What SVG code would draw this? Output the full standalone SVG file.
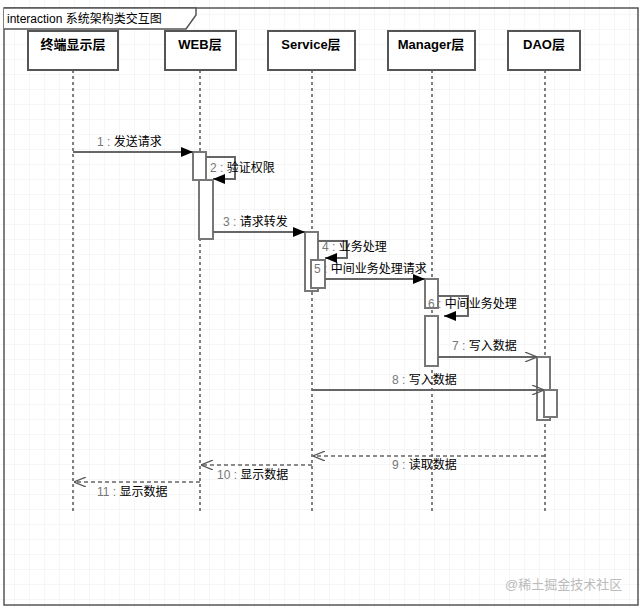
<svg xmlns="http://www.w3.org/2000/svg" width="640" height="609" viewBox="0 0 640 609">
<defs>
<pattern id="grid" width="15" height="15" patternUnits="userSpaceOnUse"><path d="M15 0V15H0" fill="none" stroke="#ececec" stroke-width="1"/></pattern>
<marker id="fa" markerWidth="12" markerHeight="10" refX="12" refY="5" orient="auto" markerUnits="userSpaceOnUse"><path d="M0 0L12 5L0 10Z" fill="#000"/></marker>
<marker id="oa" markerWidth="12" markerHeight="10" refX="12" refY="5" orient="auto" markerUnits="userSpaceOnUse"><path d="M0 0L12 5L0 10" fill="none" stroke="#555" stroke-width="1.2"/></marker>
<style>
text{font-family:"Liberation Sans","Noto Sans CJK SC",sans-serif;font-size:12px;fill:#000}
.h{font-weight:bold;font-size:13px;text-anchor:middle}
.box{fill:#fff;stroke:#555;stroke-width:2}
.life{stroke:#000;stroke-dasharray:3,3;fill:none}
.act{fill:#fff;stroke:#777;stroke-width:2}
.m{stroke:#666;stroke-width:2;fill:none}
.r{stroke:#666;stroke-width:1.5;stroke-dasharray:4,3;fill:none}
.n{fill:#777}
</style>
</defs>
<rect width="640" height="609" fill="#fff"/>
<rect width="640" height="609" fill="url(#grid)"/>
<rect x="4" y="8" width="634" height="597" fill="none" stroke="#555" stroke-width="1.5"/>
<path d="M4 8H196V15L186 29H4" fill="#fff" stroke="#555" stroke-width="1.5"/>
<text x="7" y="23" font-size="12">interaction 系统架构类交互图</text>
<g id="lifelines">
<path class="life" d="M73 70V512M200 70V512M312 70V512M432 70V512M545 70V512"/>
</g>
<g id="n1"><rect class="box" x="28" y="31" width="90" height="39"/><text class="h" x="73" y="49">终端显示层</text></g>
<g id="n2"><rect class="box" x="165" y="31" width="71" height="39"/><text class="h" x="200" y="49">WEB层</text></g>
<g id="n3"><rect class="box" x="268" y="31" width="87" height="39"/><text class="h" x="311" y="49">Service层</text></g>
<g id="n4"><rect class="box" x="388" y="31" width="87" height="39"/><text class="h" x="431" y="49">Manager层</text></g>
<g id="n5"><rect class="box" x="508" y="31" width="72" height="39"/><text class="h" x="544" y="49">DAO层</text></g>
<g id="activations">
<rect class="act" x="193" y="152" width="13" height="28"/>
<rect class="act" x="199" y="180" width="14" height="59"/>
<rect class="act" x="305" y="232" width="13" height="59"/>
<rect class="act" x="311" y="260" width="14" height="28"/>
<rect class="act" x="425" y="279" width="13" height="29"/>
<rect class="act" x="425" y="316" width="13" height="50"/>
<rect class="act" x="537" y="357" width="13" height="63"/>
<rect class="act" x="544" y="390" width="13" height="27"/>
</g>
<g id="connectors">
<path class="m" d="M73 152H193" marker-end="url(#fa)"/>
<path class="m" d="M206 157H235V179H213" marker-end="url(#fa)"/>
<path class="m" d="M213 232H305" marker-end="url(#fa)"/>
<path class="m" d="M318 241H347V258H325" marker-end="url(#fa)"/>
<path class="m" d="M325 279H425" marker-end="url(#fa)"/>
<path class="m" d="M438 296H468V316H444" marker-end="url(#fa)"/>
<path class="m" d="M438 357H537" marker-end="url(#oa)"/>
<path class="m" d="M312 390H544" marker-end="url(#oa)"/>
<path class="r" d="M545 456H313" marker-end="url(#oa)"/>
<path class="r" d="M312 465H201" marker-end="url(#oa)"/>
<path class="r" d="M200 482H74" marker-end="url(#oa)"/>
</g>
<g id="labels">
<text x="97" y="146"><tspan class="n">1 : </tspan>发送请求</text>
<text x="210" y="172"><tspan class="n">2 : </tspan>验证权限</text>
<text x="223" y="226"><tspan class="n">3 : </tspan>请求转发</text>
<text x="322" y="251"><tspan class="n">4 : </tspan>业务处理</text>
<text x="314" y="273"><tspan class="n">5 : </tspan>中间业务处理请求</text>
<text x="428" y="308"><tspan class="n">6 : </tspan>中间业务处理</text>
<text x="452" y="350"><tspan class="n">7 : </tspan>写入数据</text>
<text x="392" y="384"><tspan class="n">8 : </tspan>写入数据</text>
<text x="392" y="469"><tspan class="n">9 : </tspan>读取数据</text>
<text x="217" y="479"><tspan class="n">10 : </tspan>显示数据</text>
<text x="97" y="496"><tspan class="n">11 : </tspan>显示数据</text>
</g>
<text x="505" y="589" style="fill:#bbb;font-size:13px">@稀土掘金技术社区</text>
</svg>
